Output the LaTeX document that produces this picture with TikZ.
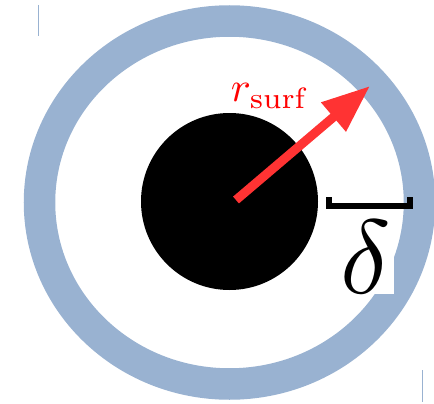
\documentclass[tikz,border=0pt]{standalone}
\usetikzlibrary{arrows.meta}
\definecolor{ringblue}{RGB}{153,178,209}
\definecolor{arrowred}{RGB}{255,51,51}
\begin{document}
\begin{tikzpicture}[x=1pt, y=-1pt,
    ring/.style={draw=ringblue, line width=31.5pt},
    core/.style={circle, fill=black, minimum size=177pt, inner sep=0pt},
    radius arrow/.style={-{Triangle[length=48pt,width=36pt]}, draw=arrowred, line width=9pt},
    bracket/.style={draw=black, line width=6pt},
    lbl/.style={inner sep=0pt}
]
\useasboundingbox (0,0) rectangle (434,404);
% stray guide lines
\draw[ringblue, line width=1pt] (38.5,5) -- (38.5,36.5);
\draw[ringblue, line width=1pt] (422.5,370) -- (422.5,401.5);
% ring and core
\draw[ring] (229.5,202.5) ellipse [x radius=190pt, y radius=181.5pt];
\node[core] (core) at (229.5,201.5) {};
% radius arrow
\coordinate (tail) at (236,200);
\coordinate (tip) at (370,86);
\draw[radius arrow] (tail) -- (tip);
\node[lbl, text=red, scale=4.2, anchor=base west] (rsurf) at (230,102) {$r_{\mathrm{surf}}$};
% thickness bracket
\coordinate (bl) at (329,197);
\coordinate (br) at (410,197);
\draw[bracket] (bl) -- ++(0,9) -| (br);
\node[lbl, fill=white, inner xsep=0.3pt, scale=10.5, anchor=south] (delta) at (366,296) {$\delta$};
\end{tikzpicture}
\end{document}
